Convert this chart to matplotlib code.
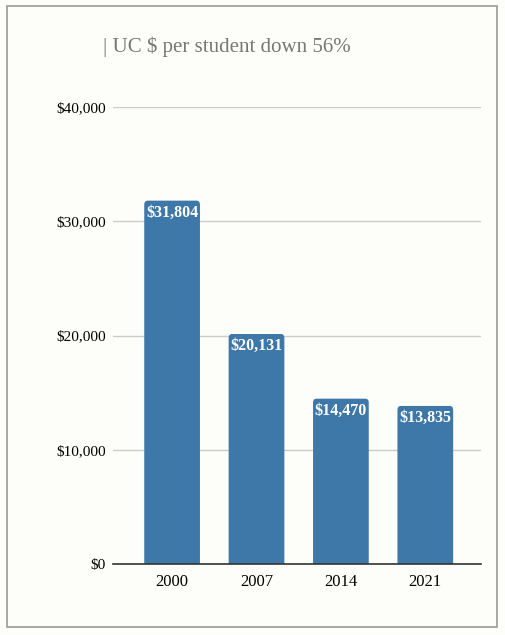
import matplotlib.pyplot as plt
from matplotlib.patches import Rectangle, FancyBboxPatch
from matplotlib.ticker import FuncFormatter

years = ['2000', '2007', '2014', '2021']
per_student = [31804, 20131, 14470, 13835]
bar_labels = ['$31,804', '$20,131', '$14,470', '$13,835']

plt.rcParams['font.family'] = ['Liberation Serif', 'DejaVu Serif']

fig = plt.figure(figsize=(5.05, 6.35), dpi=100, facecolor='#fdfdf9')
ax = fig.add_axes([0.2238, 0.1118, 0.7287, 0.7197])
ax.set_facecolor('#fdfdf9')

# outer frame
fig.patches.append(Rectangle((7 / 505, 8 / 635), 490 / 505, 621 / 635, transform=fig.transFigure,
                             fill=False, edgecolor='#9a9a9a', linewidth=1.2))

ax.set_ylim(0, 40000)
ax.set_xlim(-0.70, 3.66)

x = range(len(years))
bars = ax.bar(x, per_student, width=0.66, color='#3e78a8', zorder=3)
# slightly rounded top corners
for b in bars:
    b.set_visible(False)
    rb = FancyBboxPatch((b.get_x(), -600), b.get_width(), b.get_height() + 600,
                        boxstyle='round,pad=0,rounding_size=0.04', mutation_aspect=9000,
                        facecolor='#3e78a8', edgecolor='none', zorder=3, clip_on=True)
    ax.add_patch(rb)
    rb.set_clip_box(ax.bbox)
for b, lab in zip(bars, bar_labels):
    ax.annotate(lab, (b.get_x() + b.get_width() / 2, b.get_height()), xytext=(0, -3),
                textcoords='offset points', ha='center', va='top', color='white',
                fontweight='bold', fontsize=11.5, zorder=4)

ax.set_yticks([0, 10000, 20000, 30000, 40000])
ax.yaxis.set_major_formatter(FuncFormatter(lambda v, p: '${:,.0f}'.format(v)))
ax.set_xticks(list(x))
ax.set_xticklabels(years)
ax.tick_params(axis='both', length=0, colors='black')
ax.tick_params(axis='y', pad=5, labelsize=11)
ax.tick_params(axis='x', pad=7, labelsize=12)
ax.grid(axis='y', color='#cccccc', linewidth=1, zorder=0)
for s in ['top', 'right', 'left']:
    ax.spines[s].set_visible(False)
ax.spines['bottom'].set_color('#333333')
ax.spines['bottom'].set_linewidth(1.2)
ax.spines['bottom'].set_zorder(5)

fig.text(103 / 505, 1 - 47 / 635, '| UC $ per student down 56%', fontsize=15, color='#777777',
         ha='left', va='center')

plt.savefig('out.png', dpi=100, facecolor=fig.get_facecolor())
